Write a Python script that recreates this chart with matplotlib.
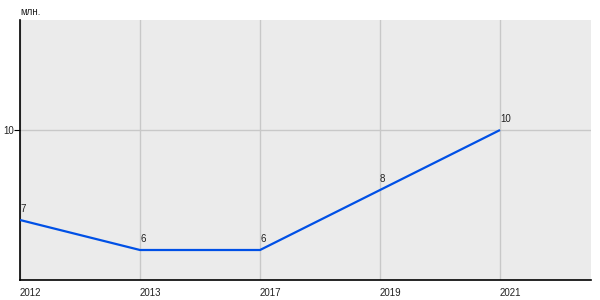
import matplotlib
matplotlib.use("Agg")
import matplotlib.pyplot as plt

years = ["2012", "2013", "2017", "2019", "2021"]
values = [7, 6, 6, 8, 10]
y_ticks = [10]
unit_label = "млн."

plt.rcParams['font.family'] = ['Liberation Sans', 'DejaVu Sans']

fig = plt.figure(figsize=(6, 3), dpi=100)
ax = fig.add_axes([20/600, 20/300, 571/600, 260/300])
ax.set_facecolor('#ebebeb')

x = list(range(len(years)))
ax.plot(x, values, color='#0050e6', linewidth=1.6, zorder=3, solid_capstyle='butt')
for xi, v in zip(x, values):
    ax.annotate(str(v), (xi, v), xytext=(0, 4), textcoords='offset points',
                ha='left', va='bottom', fontsize=7, color='#222222')

ax.set_xlim(0, 4.758)
ax.set_ylim(5, 13.667)
ax.set_xticks(x)
ax.set_xticklabels(years, ha='left', fontsize=7, color='#222222')
ax.set_yticks(y_ticks)
ax.set_yticklabels([str(t) for t in y_ticks], fontsize=7, color='#222222')
ax.tick_params(axis='x', length=0, pad=6)
ax.tick_params(axis='y', length=4, width=0.8, pad=0.5)
ax.grid(True, color='#c8c8c8', linewidth=1)
ax.set_axisbelow(True)
for s in ['top', 'right']:
    ax.spines[s].set_visible(False)
ax.spines['left'].set_color('black')
ax.spines['bottom'].set_color('black')
ax.spines['left'].set_linewidth(1.2)
ax.spines['bottom'].set_linewidth(1.2)

fig.text(20/600, 1 - 12/300, unit_label, fontsize=7, color='#222222', ha='left', va='center')

fig.savefig('out.png', dpi=100)
